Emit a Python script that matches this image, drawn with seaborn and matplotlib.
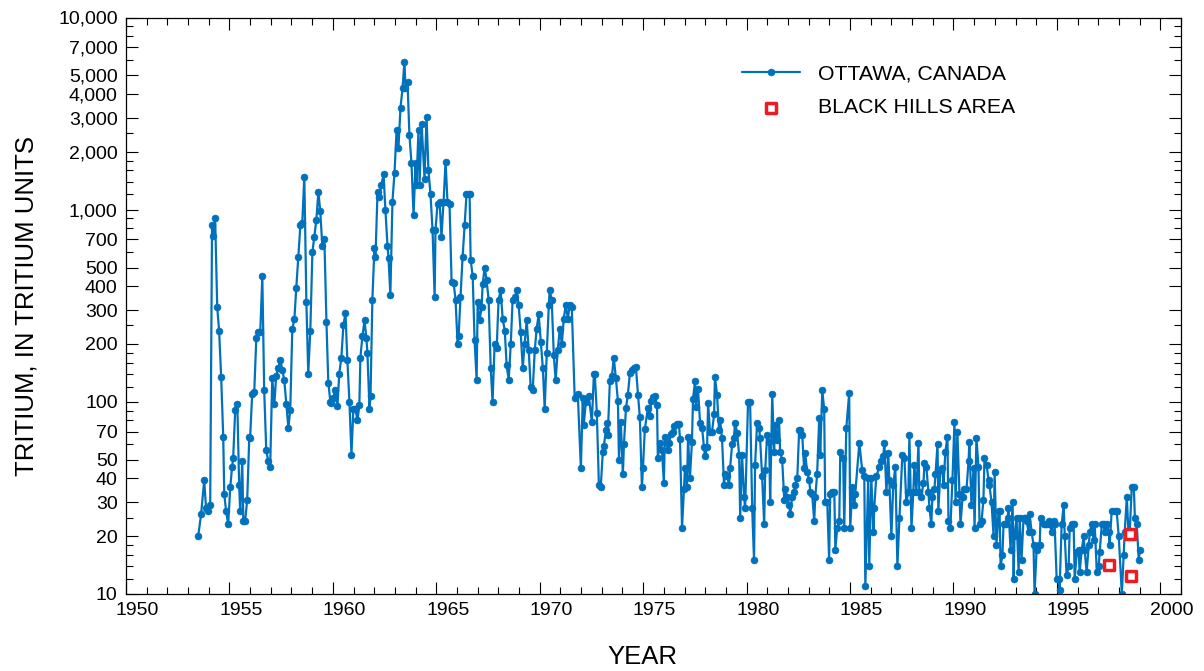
import numpy as np
import pandas as pd
import matplotlib
matplotlib.use("Agg")
import matplotlib.pyplot as plt
import matplotlib.transforms as mtransforms
from matplotlib.ticker import FixedLocator, FuncFormatter, NullFormatter
import seaborn as sns

sns.set_style("ticks")
plt.rcParams["font.family"] = ["Liberation Sans", "DejaVu Sans"]
plt.rcParams["text.color"] = "black"
plt.rcParams["axes.labelcolor"] = "black"

# Monthly tritium in precipitation at Ottawa (tritium units), grouped by decade
years_1950s = [
    1953.49, 1953.63, 1953.78, 1953.87, 1953.97,
    1954.07, 1954.16, 1954.21, 1954.31, 1954.41, 1954.50, 1954.60, 1954.70, 1954.75, 1954.84, 1954.94,
    1955.04, 1955.13, 1955.18, 1955.28, 1955.38, 1955.47, 1955.52, 1955.62, 1955.67, 1955.76, 1955.86, 1955.96,
    1956.00, 1956.10, 1956.20, 1956.30, 1956.39, 1956.49, 1956.59, 1956.68, 1956.78, 1956.88, 1956.97,
    1957.07, 1957.17, 1957.26, 1957.36, 1957.46, 1957.55, 1957.65, 1957.75, 1957.85, 1957.94,
    1958.04, 1958.14, 1958.23, 1958.33, 1958.43, 1958.52, 1958.62, 1958.72, 1958.81, 1958.91,
    1959.01, 1959.10, 1959.20, 1959.30, 1959.39, 1959.49, 1959.59, 1959.69, 1959.78, 1959.88, 1959.93,
]
tu_1950s = [
    20, 26, 39, 28, 27,
    29, 830, 730, 900, 310, 235, 135, 66, 33, 27, 23,
    36, 46, 51, 91, 98, 37, 27, 49, 24, 24, 31, 66,
    65, 110, 113, 215, 230, 230, 450, 115, 56, 49, 46,
    133, 97, 137, 150, 165, 147, 130, 97, 73, 91,
    240, 270, 390, 570, 830, 850, 1480, 330, 140, 235,
    600, 720, 880, 1240, 980, 650, 700, 260, 126, 100, 99,
]

years_1960s = [
    1960.02, 1960.12, 1960.22, 1960.31, 1960.41, 1960.51, 1960.61, 1960.70, 1960.80, 1960.90, 1960.99,
    1961.09, 1961.19, 1961.28, 1961.33, 1961.43, 1961.53, 1961.62, 1961.67, 1961.77, 1961.82, 1961.91,
    1962.01, 1962.06, 1962.16, 1962.25, 1962.35, 1962.45, 1962.54, 1962.64, 1962.69, 1962.78, 1962.88, 1962.98,
    1963.08, 1963.17, 1963.27, 1963.37, 1963.46, 1963.51, 1963.61, 1963.70, 1963.80, 1963.90,
    1964.00, 1964.04, 1964.14, 1964.19, 1964.29, 1964.43, 1964.53, 1964.62, 1964.72, 1964.82, 1964.92, 1964.96,
    1965.06, 1965.16, 1965.25, 1965.35, 1965.45, 1965.54, 1965.64, 1965.74, 1965.84, 1965.93,
    1966.03, 1966.08, 1966.17, 1966.27, 1966.37, 1966.46, 1966.56, 1966.61, 1966.66, 1966.76, 1966.85, 1966.95,
    1967.00, 1967.09, 1967.19, 1967.24, 1967.34, 1967.43, 1967.53, 1967.63, 1967.72, 1967.82, 1967.92,
    1968.01, 1968.11, 1968.21, 1968.31, 1968.40, 1968.50, 1968.60, 1968.69, 1968.79, 1968.89, 1968.98,
    1969.08, 1969.18, 1969.27, 1969.37, 1969.47, 1969.56, 1969.66, 1969.76, 1969.85, 1969.95,
]
tu_1960s = [
    105, 115, 95, 140, 170, 250, 290, 165, 100, 53, 92,
    92, 80, 96, 170, 220, 265, 215, 180, 92, 107, 340,
    635, 570, 1240, 1170, 1350, 1530, 1000, 650, 560, 360, 1100, 1560,
    2600, 2100, 3400, 4300, 5900, 4300, 4600, 2450, 1750, 940,
    1750, 1350, 2600, 1350, 2800, 1450, 3050, 1600, 1200, 780, 350, 780,
    1070, 1100, 720, 1100, 1780, 1100, 1070, 420, 415, 340,
    200, 220, 350, 565, 830, 1200, 1200, 1200, 550, 450, 210, 130,
    330, 265, 310, 410, 500, 430, 340, 150, 100, 200, 190,
    340, 380, 270, 235, 155, 130, 200, 340, 350, 380, 320,
    230, 150, 200, 265, 185, 120, 115, 185, 240, 285,
]

years_1970s = [
    1970.05, 1970.15, 1970.24, 1970.34, 1970.44, 1970.48, 1970.58, 1970.68, 1970.77, 1970.87, 1970.97,
    1971.07, 1971.16, 1971.26, 1971.36, 1971.45, 1971.55, 1971.69, 1971.84, 1971.99,
    1972.08, 1972.13, 1972.23, 1972.37, 1972.52, 1972.62, 1972.66, 1972.76, 1972.86, 1972.95,
    1973.05, 1973.10, 1973.20, 1973.24, 1973.29, 1973.39, 1973.49, 1973.58, 1973.68, 1973.78, 1973.83, 1973.92,
    1974.02, 1974.07, 1974.17, 1974.26, 1974.36, 1974.46, 1974.55, 1974.65, 1974.75, 1974.84, 1974.94, 1974.99,
    1975.08, 1975.23, 1975.33, 1975.38, 1975.47, 1975.57, 1975.67, 1975.71, 1975.81, 1975.91,
    1976.00, 1976.05, 1976.20, 1976.25, 1976.34, 1976.44, 1976.49, 1976.63, 1976.73, 1976.78, 1976.88, 1976.97,
    1977.02, 1977.12, 1977.17, 1977.26, 1977.36, 1977.41, 1977.51, 1977.55, 1977.65, 1977.75, 1977.85, 1977.94, 1977.99,
    1978.09, 1978.14, 1978.23, 1978.33, 1978.43, 1978.47, 1978.57, 1978.67, 1978.72, 1978.81, 1978.91, 1978.96,
    1979.06, 1979.15, 1979.20, 1979.30, 1979.39, 1979.44, 1979.54, 1979.64, 1979.69, 1979.78, 1979.88, 1979.93,
]
tu_1970s = [
    205, 150, 92, 180, 320, 380, 340, 175, 130, 185, 240,
    200, 270, 320, 270, 320, 310, 105, 110, 45,
    105, 76, 100, 107, 79, 140, 140, 88, 37, 36,
    55, 59, 71, 78, 67, 128, 136, 170, 133, 101, 50, 79,
    42, 60, 93, 109, 141, 146, 150, 152, 109, 83, 36, 45,
    72, 93, 84, 101, 106, 107, 96, 51, 61, 56,
    38, 66, 56, 61, 68, 70, 75, 77, 77, 64, 22, 35,
    45, 36, 66, 40, 62, 104, 128, 94, 117, 78, 73, 58, 52,
    58, 99, 70, 70, 86, 135, 109, 71, 80, 65, 37, 42,
    41, 37, 45, 60, 65, 78, 69, 53, 25, 53, 32, 28,
]

years_1980s = [
    1980.07, 1980.17, 1980.27, 1980.36, 1980.41, 1980.51, 1980.61, 1980.65, 1980.75, 1980.85, 1980.90, 1980.99,
    1981.09, 1981.14, 1981.24, 1981.33, 1981.38, 1981.48, 1981.57, 1981.62, 1981.72, 1981.82, 1981.86, 1981.96,
    1982.06, 1982.11, 1982.20, 1982.30, 1982.35, 1982.45, 1982.54, 1982.59, 1982.69, 1982.78, 1982.83, 1982.93,
    1983.03, 1983.08, 1983.17, 1983.27, 1983.32, 1983.41, 1983.51, 1983.56, 1983.66, 1983.75, 1983.80, 1983.90, 1983.99,
    1984.04, 1984.14, 1984.24, 1984.29, 1984.38, 1984.48, 1984.53, 1984.67, 1984.72, 1984.82, 1984.96,
    1985.01, 1985.11, 1985.21, 1985.25, 1985.45, 1985.59, 1985.69, 1985.74, 1985.88, 1985.93,
    1986.03, 1986.13, 1986.17, 1986.27, 1986.42, 1986.51, 1986.61, 1986.66, 1986.76, 1986.85, 1986.90,
    1987.00, 1987.09, 1987.19, 1987.29, 1987.39, 1987.53, 1987.63, 1987.72, 1987.82, 1987.87, 1987.97,
    1988.06, 1988.11, 1988.21, 1988.31, 1988.35, 1988.45, 1988.55, 1988.60, 1988.69, 1988.79, 1988.84, 1988.93, 1988.98,
    1989.08, 1989.13, 1989.23, 1989.27, 1989.37, 1989.47, 1989.52, 1989.61, 1989.71, 1989.76, 1989.85, 1989.95,
]
tu_1980s = [
    100, 100, 28, 15, 47, 78, 73, 65, 41, 23, 44, 67,
    62, 30, 110, 55, 76, 63, 80, 55, 50, 31, 35, 32,
    29, 26, 32, 34, 37, 40, 71, 71, 67, 45, 54, 43,
    39, 34, 33, 24, 32, 42, 82, 53, 115, 92, 30, 30, 15,
    33, 34, 34, 17, 22, 24, 55, 51, 22, 73, 111,
    22, 36, 29, 33, 61, 44, 41, 11, 40, 14,
    40, 21, 28, 41, 46, 49, 52, 61, 34, 54, 39,
    20, 37, 46, 14, 25, 53, 51, 30, 34, 67, 22,
    34, 47, 34, 61, 34, 32, 38, 48, 46, 34, 28, 23, 32,
    35, 42, 60, 27, 44, 45, 37, 55, 66, 24, 22, 39,
]

years_1990s = [
    1990.05, 1990.10, 1990.19, 1990.29, 1990.34, 1990.44, 1990.53, 1990.63, 1990.73, 1990.77, 1990.87, 1990.97,
    1991.02, 1991.11, 1991.21, 1991.26, 1991.36, 1991.45, 1991.50, 1991.60, 1991.70, 1991.74, 1991.84, 1991.94, 1991.99,
    1992.08, 1992.18, 1992.23, 1992.28, 1992.37, 1992.42, 1992.52, 1992.62, 1992.66, 1992.76, 1992.86, 1992.91, 1992.95,
    1993.05, 1993.15, 1993.20, 1993.29, 1993.39, 1993.44, 1993.54, 1993.63, 1993.68, 1993.78, 1993.87, 1993.92,
    1994.02, 1994.12, 1994.17, 1994.21, 1994.36, 1994.41, 1994.50, 1994.60, 1994.65, 1994.75, 1994.84, 1994.89, 1994.99,
    1995.08, 1995.13, 1995.23, 1995.33, 1995.38, 1995.47, 1995.57, 1995.62, 1995.71, 1995.81, 1995.86, 1995.96,
    1996.05, 1996.10, 1996.20, 1996.30, 1996.34, 1996.44, 1996.54, 1996.59, 1996.68, 1996.78, 1996.83, 1996.93,
    1997.02, 1997.07, 1997.17, 1997.26, 1997.31, 1997.41, 1997.51, 1997.55, 1997.65, 1997.80, 1997.89, 1997.99,
    1998.14, 1998.23, 1998.28, 1998.38, 1998.47, 1998.52, 1998.62, 1998.72, 1998.77, 1998.86, 1998.96, 1999.01,
]
tu_1990s = [
    79, 30, 70, 33, 23, 32, 35, 35, 49, 62, 29, 45,
    22, 65, 46, 23, 24, 31, 51, 47, 39, 37, 30, 20, 43,
    18, 27, 27, 14, 16, 23, 23, 25, 28, 17, 30, 12, 20,
    25, 13, 25, 15, 25, 25, 24, 21, 26, 21, 18, 10,
    17, 18, 18, 25, 23, 23, 23, 24, 23, 21, 24, 23, 12,
    12, 10.5, 23, 29, 20, 12.5, 14, 22, 23, 23, 12, 16.5,
    17, 13, 17, 20, 17, 13, 18, 21, 23, 19, 23, 13,
    14, 16.5, 23, 23, 21, 23, 21, 18, 27, 27, 27, 20,
    10, 16, 21, 32, 20, 21, 36, 36, 25, 23, 15, 17,
]

# Ground-water samples from the Black Hills area
black_hills_years = [1997.51, 1998.52, 1998.57]
black_hills_tu = [14.2, 20.6, 12.4]

y_tick_values = [10, 20, 30, 40, 50, 70, 100, 200, 300, 400, 500, 700,
                 1000, 2000, 3000, 4000, 5000, 7000, 10000]
x_tick_years = list(range(1950, 2001, 5))

ottawa = pd.DataFrame({
    "year": np.concatenate([years_1950s, years_1960s, years_1970s, years_1980s, years_1990s]),
    "tu": np.concatenate([tu_1950s, tu_1960s, tu_1970s, tu_1980s, tu_1990s]),
})
black_hills = pd.DataFrame({"year": black_hills_years, "tu": black_hills_tu})

BLUE = "#0071BC"
RED = "#EC1C24"

W, H = 1204, 671
fig = plt.figure(figsize=(W / 100, H / 100), dpi=100)
ax_l, ax_r, ax_t, ax_b = 126, 1181, 17.5, 594
ax = fig.add_axes([ax_l / W, 1 - ax_b / H, (ax_r - ax_l) / W, (ax_b - ax_t) / H])

sns.lineplot(data=ottawa, x="year", y="tu", ax=ax, estimator=None, sort=False,
             color=BLUE, linewidth=1.6, marker="o", markersize=5.0,
             markeredgecolor=BLUE, markeredgewidth=0.4,
             label="OTTAWA, CANADA", zorder=2)
sns.scatterplot(data=black_hills, x="year", y="tu", ax=ax, marker="s", s=60,
                facecolor="white", edgecolor=RED, linewidth=2.5,
                label="BLACK HILLS AREA", zorder=3)

ax.set_yscale("log")
ax.set_ylim(10, 10000)
ax.set_xlim(1950, 2001)

ax.yaxis.set_major_locator(FixedLocator(y_tick_values))
minor_y = [m * d for d in (10, 100, 1000) for m in (1.2, 1.4, 1.6, 1.8, 2.5, 6, 8, 9)]
ax.yaxis.set_minor_locator(FixedLocator(minor_y))
ax.yaxis.set_major_formatter(FuncFormatter(lambda v, p: f"{int(round(v)):,}"))
ax.yaxis.set_minor_formatter(NullFormatter())

ax.xaxis.set_major_locator(FixedLocator(x_tick_years))
ax.xaxis.set_minor_locator(FixedLocator(list(range(1950, 2002))))
ax.xaxis.set_major_formatter(FuncFormatter(lambda v, p: f"{int(v)}"))

ax.tick_params(which="both", direction="in", top=True, right=True,
               color="black", width=0.8, labelsize=14, labelcolor="black")
ax.tick_params(which="major", length=8.6)
ax.tick_params(which="minor", length=5.2)
ax.tick_params(axis="x", which="major", pad=6)
ax.tick_params(axis="y", which="major", pad=6)

for side in ax.spines.values():
    side.set_color("black")
    side.set_linewidth(0.9)

# year labels sit slightly to the right of their tick marks
shift = mtransforms.ScaledTranslation(11.5 / 100, 0, fig.dpi_scale_trans)
for lab in ax.get_xticklabels():
    lab.set_transform(lab.get_transform() + shift)

ax.set_xlabel("YEAR", fontsize=18.5, color="black")
ax.xaxis.set_label_coords((642 - ax_l) / (ax_r - ax_l), -(645 - ax_b) / (ax_b - ax_t))
ax.set_ylabel("TRITIUM, IN TRITIUM UNITS", fontsize=18.5, color="black")
ax.yaxis.set_label_coords(-(ax_l - 39) / (ax_r - ax_l), 0.5)

handles, labels = ax.get_legend_handles_labels()
leg = ax.legend(handles, labels, loc="upper left", frameon=False, fontsize=15.3,
                bbox_to_anchor=(742 / W, 1 - 64 / H), bbox_transform=fig.transFigure,
                borderpad=0, borderaxespad=0, handlelength=2.75, handletextpad=0.85,
                labelspacing=0.72)
for txt in leg.get_texts():
    txt.set_color("black")

fig.savefig("out.png", dpi=100)
